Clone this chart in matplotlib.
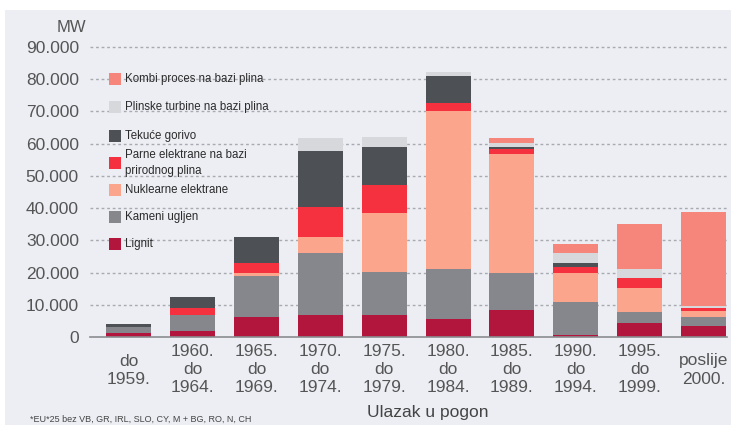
import numpy as np
import matplotlib.pyplot as plt
from matplotlib.patches import Rectangle

plt.rcParams['font.family'] = ['Liberation Sans', 'DejaVu Sans']

# razdoblja ulaska u pogon
razdoblja = ["do\n1959.", "1960.\ndo\n1964.", "1965.\ndo\n1969.", "1970.\ndo\n1974.",
             "1975.\ndo\n1979.", "1980.\ndo\n1984.", "1985.\ndo\n1989.", "1990.\ndo\n1994.",
             "1995.\ndo\n1999.", "poslije\n2000."]

# instalirana snaga po vrsti elektrane (MW)
lignit = [1200, 2000, 6300, 6800, 6800, 5600, 8400, 500, 4450, 3300]
kameni_ugljen = [1900, 4800, 12600, 19150, 13450, 15500, 11400, 10500, 3400, 2900]
nuklearne = [0, 0, 1000, 5200, 18300, 48900, 37000, 9000, 7250, 1750]
parne_plin = [0, 2200, 3100, 9100, 8600, 2700, 1450, 1850, 3100, 1150]
tekuce_gorivo = [900, 3500, 8000, 17600, 11700, 8200, 800, 1050, 0, 0]
plinske_turbine = [0, 0, 0, 3800, 3100, 1400, 1250, 3300, 2800, 400]
kombi_proces = [0, 0, 0, 0, 0, 0, 1350, 2600, 14000, 29300]

yticks = [0, 10000, 20000, 30000, 40000, 50000, 60000, 70000, 80000, 90000]
ytick_labels = ["0", "10.000", "20.000", "30.000", "40.000", "50.000",
                "60.000", "70.000", "80.000", "90.000"]

# slojevi odozdo prema gore
slojevi = [
    (lignit, "#B3163C", "Lignit"),
    (kameni_ugljen, "#85878C", "Kameni ugljen"),
    (nuklearne, "#FBA68C", "Nuklearne elektrane"),
    (parne_plin, "#F5303F", "Parne elektrane na bazi\nprirodnog plina"),
    (tekuce_gorivo, "#4D5054", "Tekuće gorivo"),
    (plinske_turbine, "#D6D8DC", "Plinske turbine na bazi plina"),
    (kombi_proces, "#F6867C", "Kombi proces na bazi plina"),
]

bg = "#ECEEF3"
fig = plt.figure(figsize=(7.36, 4.25), dpi=100, facecolor="white")
fig.patches.append(Rectangle((5 / 736, 0), 726 / 736, 415 / 425, transform=fig.transFigure,
                             facecolor=bg, edgecolor="none", zorder=-10))

ax = fig.add_axes([90 / 736, 88 / 425, 637 / 736, 290 / 425])
ax.set_facecolor("none")

x = np.arange(len(razdoblja))
dno = np.zeros(len(razdoblja))
for vrijednosti, boja, naziv in slojevi:
    v = np.array(vrijednosti, dtype=float)
    ax.bar(x, v, width=0.705, bottom=dno, color=boja, edgecolor="none", zorder=3)
    dno += v

ax.set_xlim(-0.61, 9.37)
ax.set_ylim(0, 90000)

# točkaste pomoćne linije i os nule
for yt in yticks[1:]:
    ax.axhline(yt, color="#A8AAB1", lw=1.0, ls=(0, (2, 2)), zorder=1, clip_on=False)
ax.axhline(0, color="#8A8C90", lw=1.2, zorder=4, clip_on=False)

for s in ax.spines.values():
    s.set_visible(False)
ax.set_xticks([])
ax.set_yticks(yticks)
ax.set_yticklabels(ytick_labels, fontsize=12.5, color="#555555")
ax.tick_params(axis="y", length=0, pad=8)

fig.text(86 / 736, 1 - 27 / 425, "MW", ha="right", va="center", fontsize=12, color="#555555")

# oznake razdoblja ispod stupaca
trans = ax.get_xaxis_transform()
for xi, oznaka in zip(x, razdoblja):
    ax.text(xi, -33 / 290, oznaka, transform=trans, ha="center", va="center",
            multialignment="center", fontsize=12.5, color="#555555", linespacing=1.25)

fig.text(367 / 736, 1 - 413 / 425, "Ulazak u pogon", ha="left", va="center",
         fontsize=12.5, color="#444444")
fig.text(30 / 736, 1 - 419 / 425, "*EU*25 bez VB, GR, IRL, SLO, CY, M + BG, RO, N, CH",
         ha="left", va="center", fontsize=6.5, color="#444444")

# legenda
legenda_y = [79, 107, 136, 163, 190, 217, 244]
for (vrijednosti, boja, naziv), ly in zip(slojevi[::-1], legenda_y):
    fig.patches.append(Rectangle((109 / 736, 1 - (ly + 6) / 425), 12 / 736, 12 / 425,
                                 transform=fig.transFigure, facecolor=boja,
                                 edgecolor="none", zorder=5))
    fig.text(125 / 736, 1 - ly / 425, naziv, ha="left", va="center", fontsize=8.3,
             color="#2B2B2B", linespacing=1.5)

fig.savefig("out.png", dpi=100, facecolor="white")
